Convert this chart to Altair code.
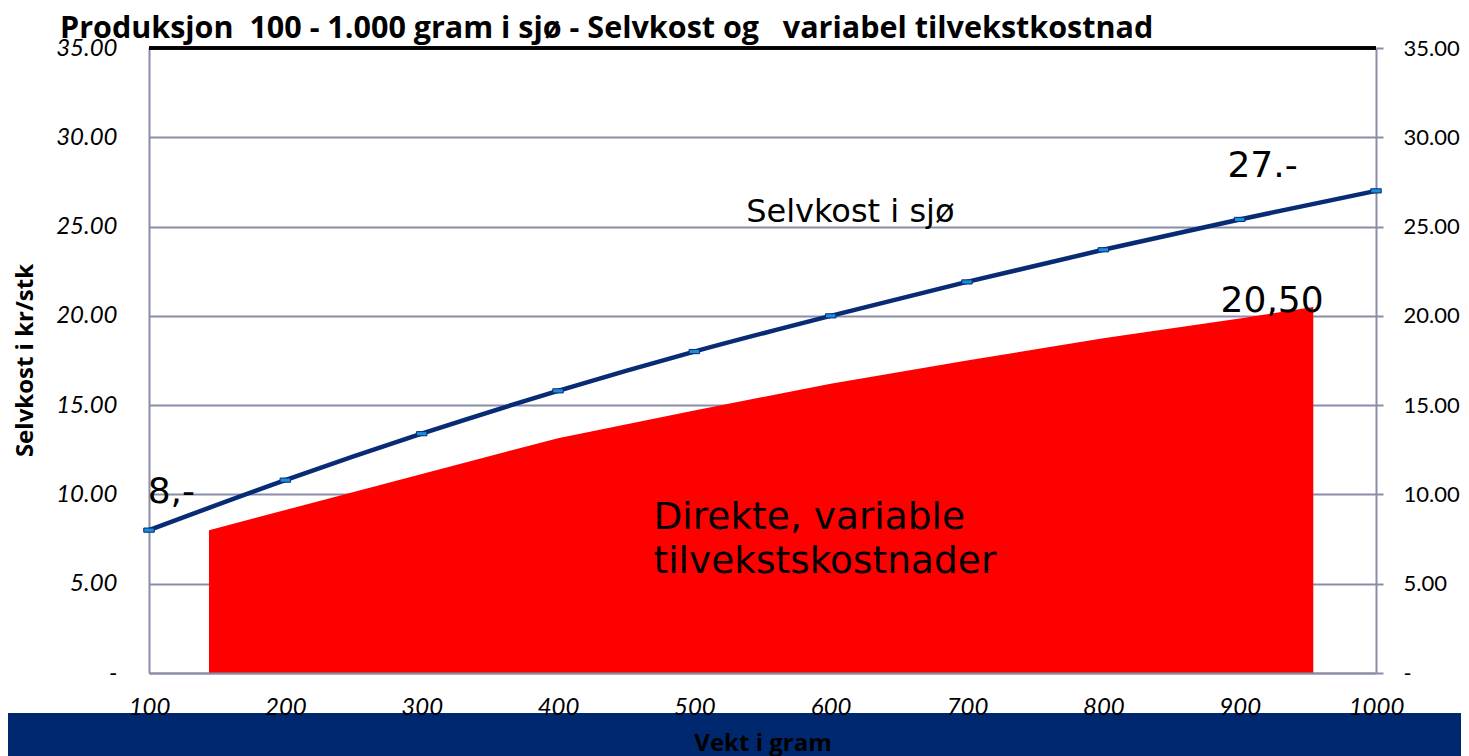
import altair as alt
import pandas as pd

# --- data -------------------------------------------------------------
weights = [100, 200, 300, 400, 500, 600, 700, 800, 900, 1000]
selvkost = [8.0, 10.8, 13.4, 15.8, 18.0, 20.0, 21.9, 23.7, 25.4, 27.0]

direkte_x = [144, 400, 500, 600, 700, 800, 900, 954]
direkte_y = [8.0, 13.15, 14.7, 16.2, 17.5, 18.75, 19.85, 20.5]

ann_text = ["8,-", "27.-", "20,50", "Selvkost i sjø", "Direkte, variable", "tilvekstskostnader"]
ann_x = [99, 891, 886, 538, 470, 470]
ann_y = [9.5, 27.75, 20.2, 25.25, 8.05, 5.6]
ann_size = [36, 36, 36, 32, 37.5, 37.5]

y_ticks = [0, 5, 10, 15, 20, 25, 30, 35]

NB = "\u00a0"
FIG = "\u2007"
title_text = f"Produksjon {NB}100 - 1.000 gram i sjø - Selvkost og {NB}{NB}variabel tilvekstkostnad"

# --- frames -----------------------------------------------------------
line_df = pd.DataFrame({"vekt": weights, "kost": selvkost})
area_df = pd.DataFrame({"vekt": direkte_x, "kost": direkte_y})
ann_df = pd.DataFrame({"vekt": ann_x, "kost": ann_y, "t": ann_text, "s": ann_size})

GRID = "#8A8DA8"
NAVY_LINE = "#072B74"
BAND = "#00286F"
LABEL_FONT = "Lato"
BOLD_FONT = "Open Sans"

xscale = alt.Scale(domain=[100, 1000], nice=False, zero=False)
yscale = alt.Scale(domain=[0, 35], nice=False, zero=True)

label_expr = f"datum.value == 0 ? '-{FIG}' : format(datum.value, '.2f')"
label_expr_r = "datum.value == 0 ? '-' : format(datum.value, '.2f')"

x_axis = alt.Axis(
    values=weights, format="d", grid=False, ticks=False,
    domain=True, domainColor=GRID, domainWidth=2,
    labelFont=LABEL_FONT, labelFontSize=24, labelFontStyle="italic",
    labelColor="black", labelPadding=22, labelFlush=False,
    title="Vekt i gram", titleFont=BOLD_FONT, titleFontSize=24,
    titleFontWeight="bold", titleColor="black",
    titleY=77, titleBaseline="alphabetic", zindex=1,
)

left_axis = alt.Axis(
    orient="left", values=y_ticks, labelExpr=label_expr,
    grid=True, gridColor=GRID, gridWidth=2, ticks=False,
    domain=True, domainColor=GRID, domainWidth=2,
    labelFont=LABEL_FONT, labelFontSize=24, labelFontStyle="italic",
    labelColor="black", labelPadding=32, labelFlush=False,
    title="Selvkost i kr/stk", titleFont=BOLD_FONT, titleFontSize=24,
    titleFontWeight="bold", titleColor="black",
    titleX=-124, titleY=312, titleAngle=-90, titleAlign="center",
    titleBaseline="middle",
)

right_axis = alt.Axis(
    orient="right", values=y_ticks, labelExpr=label_expr_r,
    grid=False, ticks=True, tickSize=7, tickColor=GRID, tickWidth=2,
    domain=True, domainColor=GRID, domainWidth=2,
    labelFont=LABEL_FONT, labelFontSize=22, labelColor="black",
    labelPadding=20, labelFlush=False, title=None,
)

X = alt.X("vekt:Q", scale=xscale, axis=x_axis)

area = alt.Chart(area_df).mark_area(color="#FF0000", interpolate="linear").encode(
    x=X,
    y=alt.Y("kost:Q", scale=yscale, axis=left_axis),
)

line = alt.Chart(line_df).mark_line(
    color=NAVY_LINE, strokeWidth=4.5, interpolate="monotone"
).encode(
    x=X,
    y=alt.Y("kost:Q", scale=yscale, axis=right_axis),
)

points = alt.Chart(line_df).mark_point(
    shape="M-1,-0.4L1,-0.4L1,0.4L-1,0.4Z", filled=True, size=110,
    fill="#1C8DDB", stroke=NAVY_LINE, strokeWidth=1, opacity=1,
).encode(
    x=X,
    y=alt.Y("kost:Q", scale=yscale, axis=None),
)

texts = alt.Chart(ann_df).mark_text(
    font="DejaVu Sans", align="left", baseline="alphabetic", color="black"
).encode(
    x=X,
    y=alt.Y("kost:Q", scale=yscale, axis=None),
    text="t:N",
    size=alt.Size("s:Q", scale=None),
)

top_rule = alt.Chart(line_df).mark_rule(color="black", strokeWidth=2.5).encode(
    x=alt.value(0), x2=alt.value(1227), y=alt.value(0)
)

band = alt.Chart(line_df).mark_rect(color=BAND).encode(
    x=alt.value(-160), x2=alt.value(1360), y=alt.value(665), y2=alt.value(740)
)

chart = alt.layer(area, line, points, texts, top_rule, band).resolve_scale(
    y="shared", x="shared"
).resolve_axis(y="independent").properties(
    width=1227, height=625,
    padding={"left": 141, "top": 40, "right": 85, "bottom": 83},
    autosize=alt.AutoSizeParams(type="none"),
    title=alt.TitleParams(
        text=title_text, font=BOLD_FONT, fontSize=30.5, fontWeight="bold",
        color="black", anchor="start", frame="group", dx=-89, offset=-8,
    ),
).configure_view(stroke=None)

chart.save("out.html", embed_options={"renderer": "svg", "actions": False})
